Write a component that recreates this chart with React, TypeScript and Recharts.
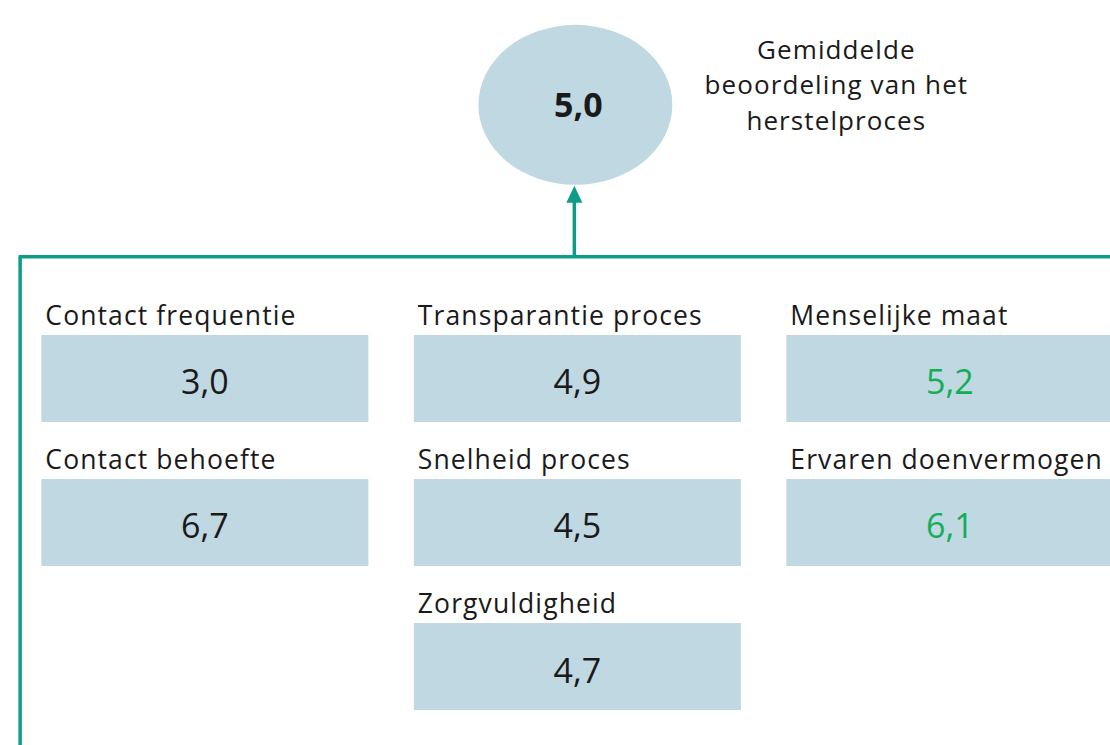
import React from "react";
import { ScatterChart, Scatter, XAxis, YAxis, ReferenceLine } from "recharts";

// ---- data ----
const labels = [
  "Contact frequentie",
  "Contact behoefte",
  "Transparantie proces",
  "Snelheid proces",
  "Zorgvuldigheid",
  "Menselijke maat",
  "Ervaren doenvermogen",
];
const scores = [3.0, 6.7, 4.9, 4.5, 4.7, 5.2, 6.1];
const columns = [0, 0, 1, 1, 1, 2, 2];
const rows = [0, 1, 0, 1, 2, 0, 1];
const highlighted = [false, false, false, false, false, true, true];
const overallScore = 5.0;
const overallLabel = ["Gemiddelde", "beoordeling van het", "herstelproces"];
const overallCol = 1;
const overallRow = -1.9;
const frameRow = -0.845;
const frameCol = -0.496;

const W = 1110;
const H = 745;
const FONT = "'Open Sans', 'Noto Sans', sans-serif";
const TEAL = "#0E9C86";
const BOX = "#BFD8E2";
const TEXT = "#1A1A1A";
const GREEN = "#12AD55";

const fmt = (v: number) => v.toFixed(1).replace(".", ",");

const boxData = labels.map((label, i) => ({
  label,
  score: scores[i],
  col: columns[i],
  row: rows[i],
  hl: highlighted[i],
}));
const overallData = [{ col: overallCol, row: overallRow, score: overallScore }];

const BoxShape = (props: any) => {
  const { cx, cy, payload } = props;
  const bw = 327;
  const bh = 87;
  return (
    <g>
      <rect x={cx - bw / 2} y={cy - bh / 2} width={bw} height={bh} fill={BOX} />
      <text
        x={cx - bw / 2 + 4}
        y={cy - bh / 2 - 10}
        fontFamily={FONT}
        fontSize={26.5}
        letterSpacing={1.1}
        fill={TEXT}
      >
        {payload.label}
      </text>
      <text
        x={cx}
        y={cy + 3}
        textAnchor="middle"
        dominantBaseline="central"
        fontFamily={FONT}
        fontSize={34}
        fill={payload.hl ? GREEN : TEXT}
      >
        {fmt(payload.score)}
      </text>
    </g>
  );
};

const OverallShape = (props: any) => {
  const { cx, cy, payload } = props;
  const rx = 97;
  const ry = 80;
  const frameY = cy + 152;
  const tipY = cy + ry + 1;
  return (
    <g>
      <ellipse cx={cx - 2} cy={cy} rx={rx} ry={ry} fill={BOX} />
      <text
        x={cx + 1}
        y={cy - 1}
        textAnchor="middle"
        dominantBaseline="central"
        fontFamily={FONT}
        fontWeight="bold"
        fontSize={34}
        fill={TEXT}
      >
        {fmt(payload.score)}
      </text>
      {overallLabel.map((t, i) => (
        <text
          key={t}
          x={cx + 259}
          y={cy - 46 + i * 35.5}
          textAnchor="middle"
          fontFamily={FONT}
          fontSize={26}
          letterSpacing={1.1}
          fill={TEXT}
        >
          {t}
        </text>
      ))}
      <line x1={cx - 3} x2={cx - 3} y1={frameY} y2={tipY + 14} stroke={TEAL} strokeWidth={3.5} />
      <polygon
        points={`${cx - 3},${tipY} ${cx - 11},${tipY + 17} ${cx + 5},${tipY + 17}`}
        fill={TEAL}
      />
    </g>
  );
};

export default function App() {
  return (
    <div style={{ position: "absolute", left: 0, top: 0, background: "#fff" }}>
      <ScatterChart width={W} height={H} margin={{ top: 0, right: 0, bottom: 0, left: 0 }}>
        <XAxis
          type="number"
          dataKey="col"
          domain={[-0.55, 2.43]}
          allowDataOverflow
          hide
        />
        <YAxis
          type="number"
          dataKey="row"
          domain={[-2.628, 2.545]}
          reversed
          allowDataOverflow
          hide
        />
        <ReferenceLine
          segment={[
            { x: -0.5, y: frameRow },
            { x: 2.43, y: frameRow },
          ]}
          stroke={TEAL}
          strokeWidth={3.5}
          ifOverflow="visible"
        />
        <ReferenceLine
          segment={[
            { x: frameCol, y: frameRow },
            { x: frameCol, y: 2.545 },
          ]}
          stroke={TEAL}
          strokeWidth={3.5}
          ifOverflow="visible"
        />
        <Scatter data={overallData} shape={OverallShape} isAnimationActive={false} />
        <Scatter data={boxData} shape={BoxShape} isAnimationActive={false} />
      </ScatterChart>
    </div>
  );
}
